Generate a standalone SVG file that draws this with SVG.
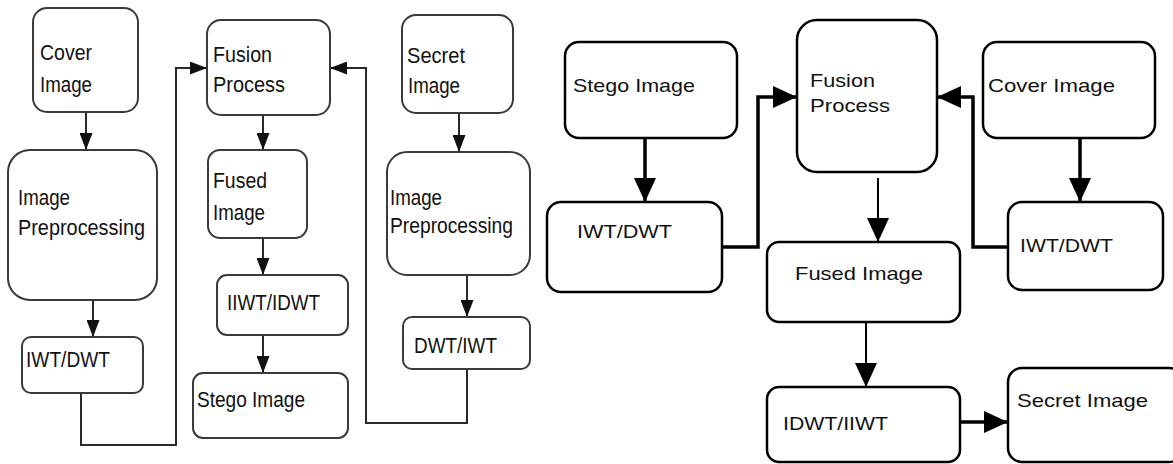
<svg xmlns="http://www.w3.org/2000/svg" width="1173" height="464" viewBox="0 0 1173 464">
<style>
.bl{fill:#fff;stroke:#3a3a3a;stroke-width:2}
.br{fill:#fff;stroke:#000;stroke-width:2.5}
.tl{font-family:"Liberation Sans",Arial,sans-serif;font-size:22px;fill:#111}
.tr{font-family:"Liberation Sans",Arial,sans-serif;font-size:19px;fill:#111}
.cl{fill:none;stroke:#2a2a2a;stroke-width:2}
.cr{fill:none;stroke:#000;stroke-width:3.5}
.crt{fill:none;stroke:#000;stroke-width:2}
</style>
<defs>
<marker id="ahs" markerUnits="userSpaceOnUse" markerWidth="17" markerHeight="13" refX="17" refY="6.5" orient="auto" viewBox="0 0 17 13"><path d="M0,0 L17,6.5 L0,13 z" fill="#111"/></marker>
<marker id="ahb" markerUnits="userSpaceOnUse" markerWidth="24" markerHeight="22" refX="24" refY="11" orient="auto" viewBox="0 0 24 22"><path d="M0,0 L24,11 L0,22 z" fill="#000"/></marker>
</defs>
<rect width="1173" height="464" fill="#fff"/>
<g id="connectors">
<path class="cl" d="M86,112 V150" marker-end="url(#ahs)"/>
<path class="cl" d="M93,300 V337" marker-end="url(#ahs)"/>
<path class="cl" d="M81,393 V445 H176 V68 H207" marker-end="url(#ahs)"/>
<path class="cl" d="M263,115 V150" marker-end="url(#ahs)"/>
<path class="cl" d="M263,238 V275" marker-end="url(#ahs)"/>
<path class="cl" d="M263,335 V373" marker-end="url(#ahs)"/>
<path class="cl" d="M459,113 V152" marker-end="url(#ahs)"/>
<path class="cl" d="M467,275 V317" marker-end="url(#ahs)"/>
<path class="cl" d="M467,369 V423 H366 V68 H330" marker-end="url(#ahs)"/>
<path class="cr" d="M645,138 V202" marker-end="url(#ahb)"/>
<path class="cr" d="M722,247 H758 V97 H797" marker-end="url(#ahb)"/>
<path class="cr" d="M1080,138 V202" marker-end="url(#ahb)"/>
<path class="cr" d="M1008,247 H973 V97 H937" marker-end="url(#ahb)"/>
<path class="crt" d="M878,178 V242" marker-end="url(#ahb)"/>
<path class="crt" d="M866,322 V387" marker-end="url(#ahb)"/>
<path class="cr" d="M955,422 H1008" marker-end="url(#ahb)"/>
</g>
<g id="l-cover"><rect class="bl" x="33" y="8" width="105" height="104" rx="14"/><text class="tl" x="40" y="60" textLength="52" lengthAdjust="spacingAndGlyphs">Cover</text><text class="tl" x="40" y="92" textLength="52" lengthAdjust="spacingAndGlyphs">Image</text></g>
<g id="l-preproc"><rect class="bl" x="8" y="150" width="149" height="150" rx="22"/><text class="tl" x="18" y="205" textLength="52" lengthAdjust="spacingAndGlyphs">Image</text><text class="tl" x="18" y="235" textLength="127" lengthAdjust="spacingAndGlyphs">Preprocessing</text></g>
<g id="l-iwt"><rect class="bl" x="22" y="337" width="121" height="56" rx="9"/><text class="tl" x="26" y="367" textLength="84" lengthAdjust="spacingAndGlyphs">IWT/DWT</text></g>
<g id="l-fusion"><rect class="bl" x="207" y="20" width="123" height="95" rx="14"/><text class="tl" x="213" y="62" textLength="59" lengthAdjust="spacingAndGlyphs">Fusion</text><text class="tl" x="213" y="92" textLength="72" lengthAdjust="spacingAndGlyphs">Process</text></g>
<g id="l-fused"><rect class="bl" x="208" y="150" width="99" height="88" rx="12"/><text class="tl" x="213" y="188" textLength="54" lengthAdjust="spacingAndGlyphs">Fused</text><text class="tl" x="213" y="220" textLength="52" lengthAdjust="spacingAndGlyphs">Image</text></g>
<g id="l-iiwt"><rect class="bl" x="217" y="275" width="131" height="60" rx="10"/><text class="tl" x="227" y="310" textLength="93" lengthAdjust="spacingAndGlyphs">IIWT/IDWT</text></g>
<g id="l-stego"><rect class="bl" x="193" y="373" width="155" height="65" rx="10"/><text class="tl" x="197" y="407" textLength="108" lengthAdjust="spacingAndGlyphs">Stego Image</text></g>
<g id="l-secret"><rect class="bl" x="402" y="15" width="111" height="98" rx="14"/><text class="tl" x="407" y="63" textLength="58" lengthAdjust="spacingAndGlyphs">Secret</text><text class="tl" x="408" y="93" textLength="52" lengthAdjust="spacingAndGlyphs">Image</text></g>
<g id="l-preproc2"><rect class="bl" x="387" y="152" width="143" height="123" rx="20"/><text class="tl" x="390" y="205" textLength="52" lengthAdjust="spacingAndGlyphs">Image</text><text class="tl" x="390" y="233" textLength="123" lengthAdjust="spacingAndGlyphs">Preprocessing</text></g>
<g id="l-dwt"><rect class="bl" x="403" y="317" width="127" height="52" rx="9"/><text class="tl" x="414" y="353" textLength="83" lengthAdjust="spacingAndGlyphs">DWT/IWT</text></g>
<g id="r-stego"><rect class="br" x="565" y="42" width="172" height="96" rx="14"/><text class="tr" x="573" y="92" textLength="122" lengthAdjust="spacingAndGlyphs">Stego Image</text></g>
<g id="r-iwt1"><rect class="br" x="547" y="202" width="175" height="90" rx="14"/><text class="tr" x="577" y="238" textLength="95" lengthAdjust="spacingAndGlyphs">IWT/DWT</text></g>
<g id="r-fusion"><rect class="br" x="797" y="20" width="140" height="152" rx="20"/><text class="tr" x="810" y="87" textLength="65" lengthAdjust="spacingAndGlyphs">Fusion</text><text class="tr" x="810" y="112" textLength="80" lengthAdjust="spacingAndGlyphs">Process</text></g>
<g id="r-cover"><rect class="br" x="983" y="42" width="172" height="96" rx="14"/><text class="tr" x="988" y="92" textLength="127" lengthAdjust="spacingAndGlyphs">Cover Image</text></g>
<g id="r-iwt2"><rect class="br" x="1008" y="202" width="155" height="88" rx="14"/><text class="tr" x="1020" y="252" textLength="93" lengthAdjust="spacingAndGlyphs">IWT/DWT</text></g>
<g id="r-fused"><rect class="br" x="767" y="242" width="193" height="80" rx="12"/><text class="tr" x="795" y="280" textLength="128" lengthAdjust="spacingAndGlyphs">Fused Image</text></g>
<g id="r-idwt"><rect class="br" x="767" y="387" width="193" height="75" rx="12"/><text class="tr" x="783" y="430" textLength="105" lengthAdjust="spacingAndGlyphs">IDWT/IIWT</text></g>
<g id="r-secret"><rect class="br" x="1008" y="368" width="175" height="94" rx="14"/><text class="tr" x="1017" y="407" textLength="131" lengthAdjust="spacingAndGlyphs">Secret Image</text></g>
</svg>
